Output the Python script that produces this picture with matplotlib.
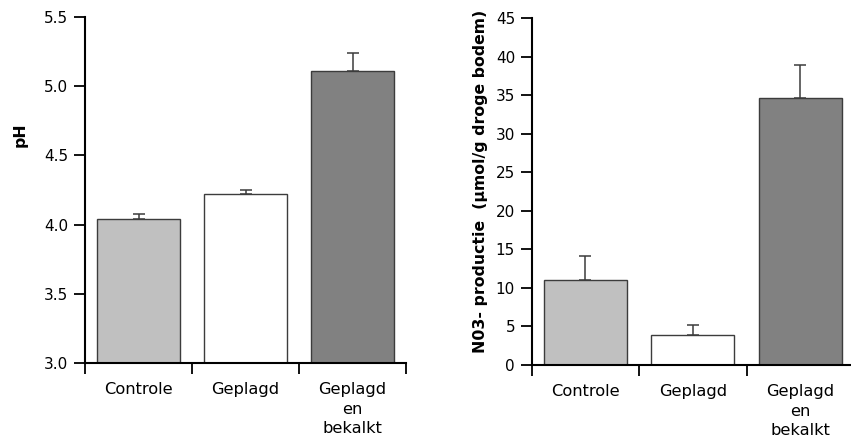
import numpy as np
import matplotlib
matplotlib.use('Agg')
import matplotlib.pyplot as plt

CATEGORIES = ['Controle', 'Geplagd', 'Geplagd\nen\nbekalkt']
BAR_COLORS = ['#c0c0c0', '#ffffff', '#818181']

PH_MEAN = [4.04, 4.22, 5.11]
PH_ERR = [0.04, 0.03, 0.13]

NO3_MEAN = [11.0, 3.85, 34.6]
NO3_ERR = [3.2, 1.3, 4.4]

EDGE = '#3c3c3c'

plt.rcParams['font.family'] = 'DejaVu Sans'


def draw_panel(ax, means, errs, ylim, yticks, yfmt, ylabel):
    x = np.arange(1, len(CATEGORIES) + 1)
    ax.bar(x, np.array(means) - ylim[0], bottom=ylim[0], width=0.77,
           color=BAR_COLORS, edgecolor=EDGE, linewidth=1.0, zorder=2)
    # one-sided (upper) error bars
    ax.errorbar(x, means, yerr=[np.zeros(len(errs)), errs], fmt='none',
                ecolor=EDGE, elinewidth=1.1, capsize=4.5, capthick=1.1,
                zorder=3)

    ax.set_xlim(0.5, len(CATEGORIES) + 0.5)
    ax.set_ylim(*ylim)
    ax.set_yticks(yticks)
    ax.set_yticklabels([yfmt.format(v) for v in yticks], fontsize=11)

    # ticks at category boundaries, labels centred in between
    ax.set_xticks(np.arange(0.5, len(CATEGORIES) + 1, 1.0))
    ax.set_xticklabels([])
    ax.set_xticks(x, minor=True)
    ax.set_xticklabels(CATEGORIES, minor=True, fontsize=11.7,
                       linespacing=1.4)
    ax.tick_params(axis='x', which='minor', length=0, pad=13.5)
    ax.tick_params(axis='x', which='major', length=8, width=1.3,
                   direction='out')
    ax.tick_params(axis='y', length=8, width=1.3, direction='out', pad=4)

    for side in ('top', 'right'):
        ax.spines[side].set_visible(False)
    for side in ('left', 'bottom'):
        ax.spines[side].set_linewidth(1.5)

    ax.set_ylabel(ylabel, fontsize=11.3, fontweight='bold')


fig = plt.figure(figsize=(8.51, 4.45), dpi=100)

ax1 = fig.add_axes([0.0999, 0.1843, 0.3772, 0.7775])
draw_panel(ax1, PH_MEAN, PH_ERR, (3.0, 5.5),
           [3.0, 3.5, 4.0, 4.5, 5.0, 5.5], '{:.1f}', 'pH')
ax1.yaxis.set_label_coords(-0.18, 0.66)

ax2 = fig.add_axes([0.6248, 0.1798, 0.3787, 0.779])
draw_panel(ax2, NO3_MEAN, NO3_ERR, (0, 45),
           list(range(0, 50, 5)), '{:d}', 'N03- productie  (µmol/g droge bodem)')
ax2.yaxis.set_label_coords(-0.135, 0.53)

fig.savefig('out.png', dpi=100)
